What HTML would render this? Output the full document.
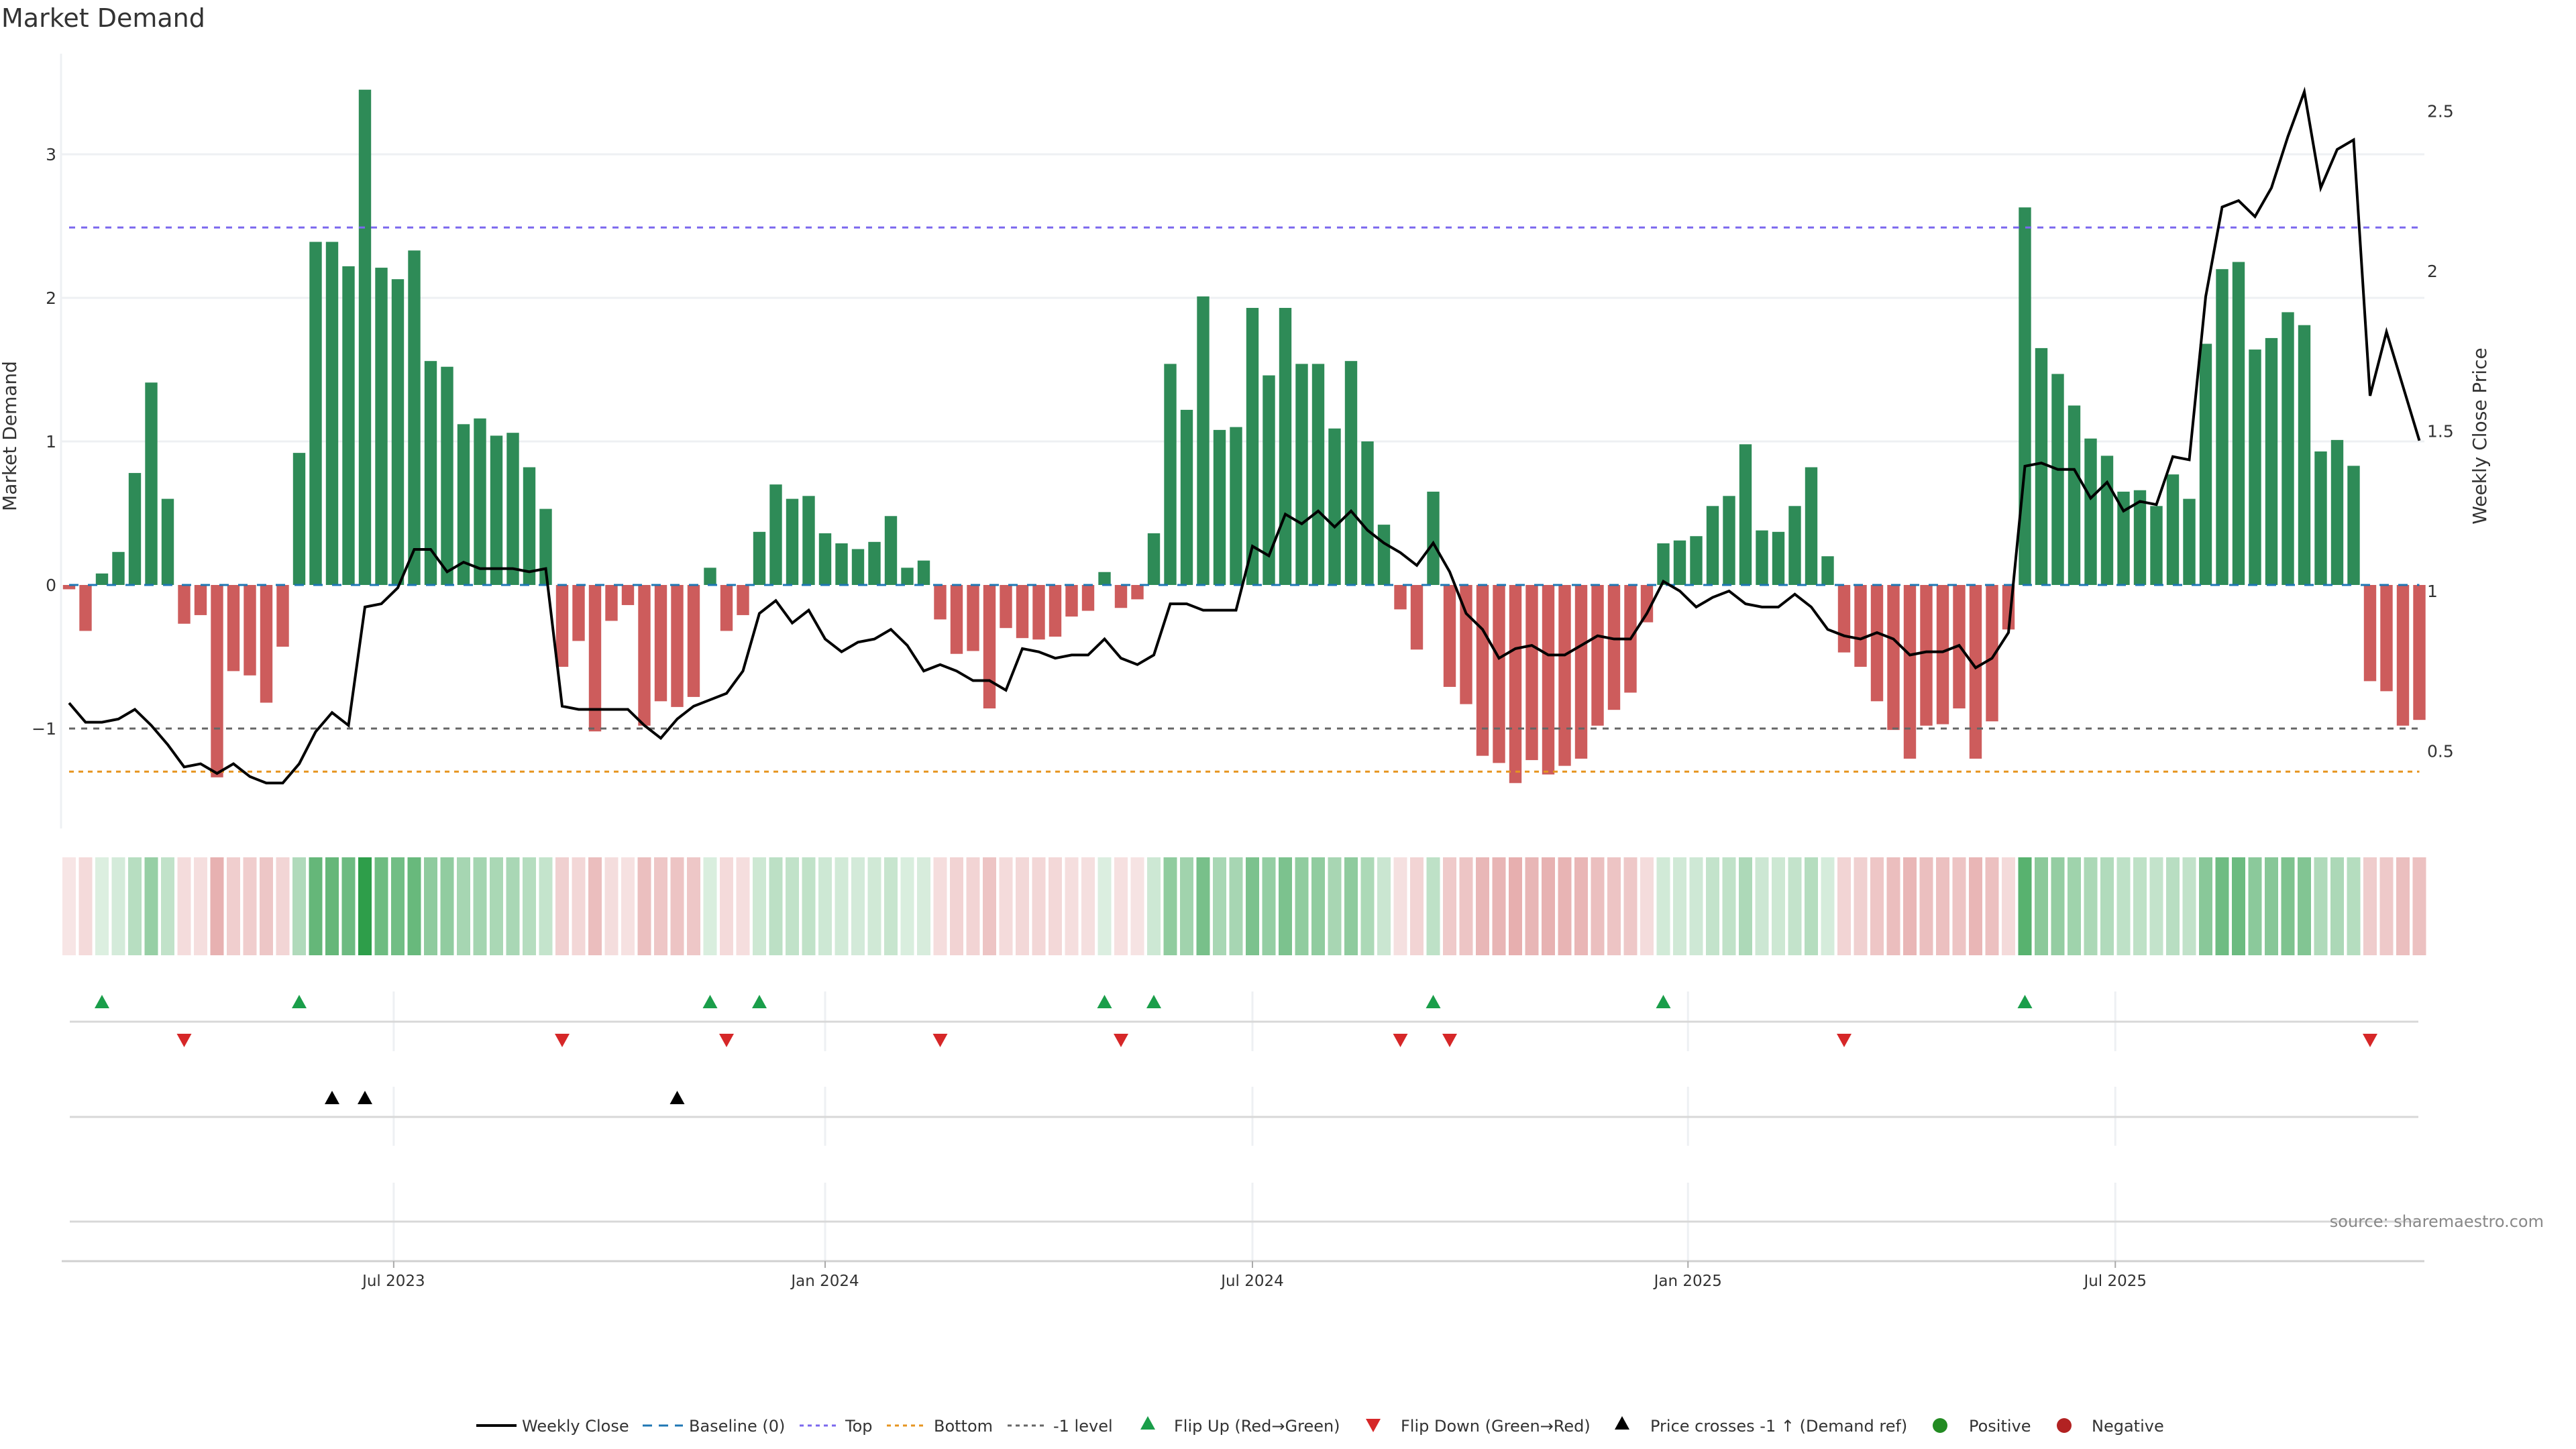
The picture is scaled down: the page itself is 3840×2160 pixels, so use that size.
<!DOCTYPE html>
<html><head><meta charset="utf-8"><style>
html,body{margin:0;padding:0;background:#fff;}
svg{display:block;font-family:"DejaVu Sans","Liberation Sans",sans-serif;}
</style></head><body>
<svg id="chart" width="3840" height="2160" viewBox="0 0 3840 2160" xmlns="http://www.w3.org/2000/svg">
<text x="2" y="40" font-size="38" fill="#333">Market Demand</text>
<g id="grid"></g>
<g id="bars"></g>
<g id="refs"></g>
<g id="price"></g>
<g id="heat"></g>
<g id="panels"></g>
<g id="axes"></g>
<text x="24" y="650" font-size="28" fill="#333" text-anchor="middle" transform="rotate(-90 24 650)">Market Demand</text>
<text x="3706" y="650" font-size="28" fill="#333" text-anchor="middle" transform="rotate(-90 3706 650)">Weekly Close Price</text>
<text x="3792" y="1829" font-size="24" fill="#888" text-anchor="end">source: sharemaestro.com</text>
<g id="legend"></g>
</svg>
<script>
const demand = [-0.03,-0.32,0.08,0.23,0.78,1.41,0.6,-0.27,-0.21,-1.34,-0.6,-0.63,-0.82,-0.43,0.92,2.39,2.39,2.22,3.45,2.21,2.13,2.33,1.56,1.52,1.12,1.16,1.04,1.06,0.82,0.53,
-0.57,-0.39,-1.02,-0.25,-0.14,-0.98,-0.81,-0.85,-0.78,0.12,-0.32,-0.21,0.37,0.7,0.6,0.62,0.36,0.29,0.25,0.3,0.48,0.12,0.17,-0.24,-0.48,-0.46,-0.86,-0.3,-0.37,-0.38,
-0.36,-0.22,-0.18,0.09,-0.16,-0.1,0.36,1.54,1.22,2.01,1.08,1.1,1.93,1.46,1.93,1.54,1.54,1.09,1.56,1.0,0.42,-0.17,-0.45,0.65,-0.71,-0.83,-1.19,-1.24,-1.38,-1.22,
-1.32,-1.26,-1.21,-0.98,-0.87,-0.75,-0.26,0.29,0.31,0.34,0.55,0.62,0.98,0.38,0.37,0.55,0.82,0.2,-0.47,-0.57,-0.81,-1.01,-1.21,-0.98,-0.97,-0.86,-1.21,-0.95,
-0.31,2.63,1.65,1.47,1.25,1.02,0.9,0.65,0.66,0.55,0.77,0.6,1.68,2.2,2.25,1.64,1.72,1.9,1.81,0.93,1.01,0.83,-0.67,-0.74,-0.98,-0.94];
const closePrice = [0.65,0.59,0.59,0.60,0.63,0.58,0.52,0.45,0.46,0.43,0.46,0.42,0.40,0.40,0.46,0.56,0.62,0.58,0.95,0.96,1.01,1.13,1.13,1.06,1.09,1.07,1.07,1.07,1.06,1.07,
0.64,0.63,0.63,0.63,0.63,0.58,0.54,0.60,0.64,0.66,0.68,0.75,0.93,0.97,0.90,0.94,0.85,0.81,0.84,0.85,0.88,0.83,0.75,0.77,0.75,0.72,0.72,0.69,0.82,0.81,
0.79,0.80,0.80,0.85,0.79,0.77,0.80,0.96,0.96,0.94,0.94,0.94,1.14,1.11,1.24,1.21,1.25,1.20,1.25,1.19,1.15,1.12,1.08,1.15,1.06,0.93,0.88,0.79,0.82,0.83,
0.80,0.80,0.83,0.86,0.85,0.85,0.93,1.03,1.00,0.95,0.98,1.00,0.96,0.95,0.95,0.99,0.95,0.88,0.86,0.85,0.87,0.85,0.80,0.81,0.81,0.83,0.76,0.79,0.87,1.39,
1.40,1.38,1.38,1.29,1.34,1.25,1.28,1.27,1.42,1.41,1.92,2.20,2.22,2.17,2.26,2.42,2.56,2.26,2.38,2.41,1.61,1.81,1.64,1.47];
const flipUp = [2,14,39,42,63,66,83,97,119];
const flipDown = [7,30,40,53,64,81,84,108,140];
const priceCross = [16,18,37];
const demandTicks = [-1,0,1,2,3];
const priceTicks = [0.5,1,1.5,2,2.5];
const dateTicks = ["Jul 2023","Jan 2024","Jul 2024","Jan 2025","Jul 2025"];
const dateTickWeeks = [19.75,46.0,72.0,98.5,124.5];
const levelTop = 2.49, levelBottom = -1.30, levelMinus1 = -1.0;

const NS="http://www.w3.org/2000/svg";
function mk(parent,tag,attrs){const e=document.createElementNS(NS,tag);for(const k in attrs)e.setAttribute(k,attrs[k]);document.getElementById(parent).appendChild(e);return e;}
const xOf=i=>103+24.5*i;
const yD=v=>872-214*v;
const yP=p=>881-477*(p-1);
const X0=91,X1=3614;

[1,2,3].forEach(v=>{const g=mk('grid','line',{x1:X0,x2:X1,y1:yD(v),y2:yD(v),stroke:'#eef0f3','stroke-width':3});

});

demand.forEach((v,i)=>{const y=Math.min(yD(v),yD(0));const h=Math.abs(yD(v)-yD(0));
const r=mk('bars','rect',{x:xOf(i)-9.2,y:y,width:18.4,height:Math.max(h,1),fill:v>=0?'#2e8b57':'#cd5c5c'});

});

[[0,'#1f77b4','14,14',3],[levelTop,'#7b68ee','9,9',3],[levelMinus1,'#666','9,9',3],[levelBottom,'#e69520','7,7',3]].forEach(([v,c,d,w])=>{
const l=mk('refs','line',{x1:xOf(0),x2:xOf(demand.length-1),y1:yD(v),y2:yD(v),stroke:c,'stroke-dasharray':d,'stroke-width':w});

});

const pl=mk('price','polyline',{points:closePrice.map((p,i)=>xOf(i)+','+yP(p)).join(' '),fill:'none',stroke:'#000','stroke-width':4,'stroke-linejoin':'miter'});



const maxA=Math.max(...demand.map(Math.abs));
function mix(c,t){return 'rgb('+c.map(k=>Math.round(255-(255-k)*t)).join(',')+')';}
demand.forEach((v,i)=>{const t=0.15+0.85*Math.abs(v)/maxA;
const c=mk('heat','rect',{x:xOf(i)-10,y:1278,width:20,height:146,fill:v>=0?mix([46,158,74],t):mix([205,92,92],t)});

});

const tickX=dateTickWeeks.map(w=>xOf(w));
[[1478,1567],[1620,1708],[1763,1880]].forEach(([a,b])=>tickX.forEach(x=>{const g=mk('panels','line',{x1:x,x2:x,y1:a,y2:b,stroke:'#eef0f3','stroke-width':3});

}));
[1523,1665,1821].forEach(y=>{const l=mk('panels','line',{x1:104,x2:3605,y1:y,y2:y,stroke:'#d8d8d8','stroke-width':3});

});
function tri(x,y,up,col){const s=11;const pts=up?`${x-s},${y+10} ${x+s},${y+10} ${x},${y-10}`:`${x-s},${y-10} ${x+s},${y-10} ${x},${y+10}`;
return mk('panels','polygon',{points:pts,fill:col});}
flipUp.forEach(i=>{const t=tri(xOf(i),1493,true,'#1a9e4a');

});
flipDown.forEach(i=>{const t=tri(xOf(i),1551,false,'#d62728');

});
priceCross.forEach(i=>{const t=tri(xOf(i),1636,true,'#000');

});

const al=mk('axes','line',{x1:X0,x2:X0,y1:80,y2:1235,stroke:'#eef0f3','stroke-width':3});


const xl=mk('axes','line',{x1:92,x2:X1,y1:1880,y2:1880,stroke:'#d0d0d0','stroke-width':3});


demandTicks.forEach(v=>{const t=mk('axes','text',{x:84,y:yD(v)+9,'font-size':25,fill:'#333','text-anchor':'end'});t.textContent=v<0?'\u22121':String(v);

});
priceTicks.forEach(p=>{const t=mk('axes','text',{x:3618,y:yP(p)+9,'font-size':25,fill:'#333'});t.textContent=String(p);

});
dateTicks.forEach((d,k)=>{const x=tickX[k];const tk=mk('axes','line',{x1:x,x2:x,y1:1880,y2:1890,stroke:'#aaa','stroke-width':2});


const t=mk('axes','text',{x:x,y:1917,'font-size':23,fill:'#333','text-anchor':'middle'});t.textContent=d;

});

const LY=2125;
function ltext(x,s){const t=mk('legend','text',{x:x,y:LY+9,'font-size':24,fill:'#333'});t.textContent=s;

}
function lline(x,c,d,w){const l=mk('legend','line',{x1:x,x2:x+60,y1:LY,y2:LY,stroke:c,'stroke-dasharray':d,'stroke-width':w});

}
lline(710,'#000','none',4);ltext(778,'Weekly Close');
lline(958,'#1f77b4','14,10',3);ltext(1027,'Baseline (0)');
lline(1192,'#7b68ee','6,6',3);ltext(1260,'Top');
lline(1322,'#e69520','6,6',3);ltext(1392,'Bottom');
lline(1502,'#666','6,6',3);ltext(1570,'-1 level');
let t1=tri(1711,LY-4,true,'#1a9e4a');t1.remove();document.getElementById('legend').appendChild(t1);


ltext(1750,'Flip Up (Red\u2192Green)');
let t2=tri(2047,LY,false,'#d62728');t2.remove();document.getElementById('legend').appendChild(t2);


ltext(2088,'Flip Down (Green\u2192Red)');
let t3=tri(2418,LY-4,true,'#000');t3.remove();document.getElementById('legend').appendChild(t3);


ltext(2460,'Price crosses -1 \u2191 (Demand ref)');
const c1=mk('legend','circle',{cx:2892,cy:LY,r:11,fill:'#228b22'});


ltext(2935,'Positive');
const c2=mk('legend','circle',{cx:3077,cy:LY,r:11,fill:'#b22222'});


ltext(3118,'Negative');
</script>
</body></html>
